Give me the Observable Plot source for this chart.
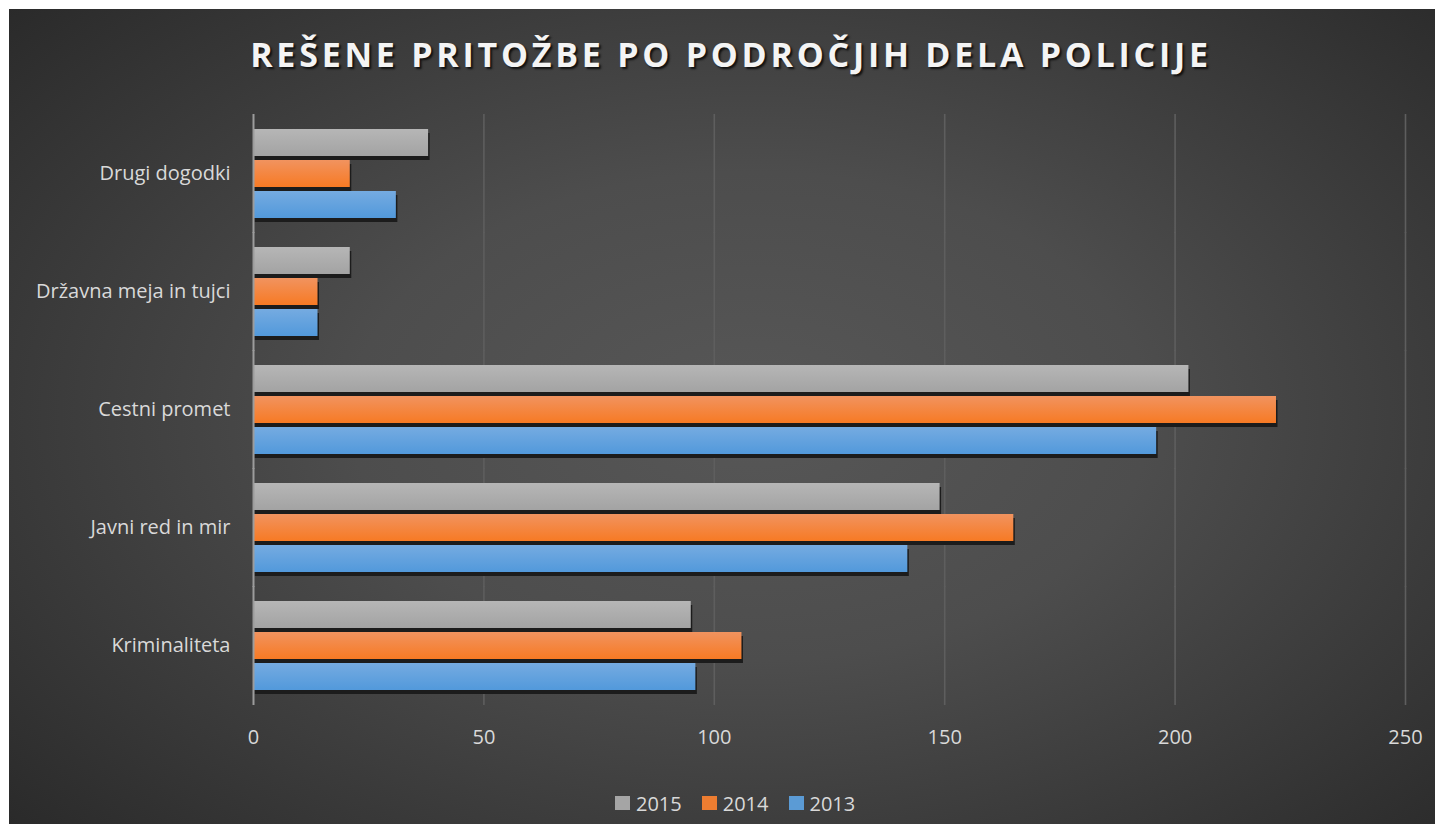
<!DOCTYPE html>
<html><head><meta charset="utf-8">
<script src="https://cdn.jsdelivr.net/npm/d3@7"></script>
<script src="https://cdn.jsdelivr.net/npm/@observablehq/plot@0.6"></script>
<style>
html,body{margin:0;padding:0;background:#fff;}
#chart{position:absolute;left:9px;top:9px;width:1426px;height:815px;overflow:hidden;
 background: radial-gradient(ellipse 70% 75% at 52% 50%, #575757 0%, #4d4d4d 40%, #2a2a2a 100%);
 font-family:"Open Sans",sans-serif;}
#title{position:absolute;left:0;top:22px;width:1426px;text-align:center;padding-left:18px;box-sizing:border-box;
 font-weight:700;font-size:34px;letter-spacing:3.75px;color:#f4f4f4;text-shadow:2px 2px 2px #111;line-height:normal;white-space:nowrap;}
#plot{position:absolute;left:0;top:96px;}
#legend{position:absolute;left:606px;top:782px;height:24px;display:flex;align-items:center;font-size:20px;color:#d9d9d9;}
#legend .item{display:flex;align-items:center;margin-right:20px;}
#legend .sw{width:15px;height:14px;margin-right:6px;}
</style></head>
<body>
<div id="chart">
  <div id="title">REŠENE PRITOŽBE PO PODROČJIH DELA POLICIJE</div>
  <div id="plot"></div>
  <div id="legend"></div>
</div>
<script>
const categories = ["Drugi dogodki", "Državna meja in tujci", "Cestni promet", "Javni red in mir", "Kriminaliteta"];
const years = ["2015", "2014", "2013"];
const values2015 = [38, 21, 203, 149, 95];
const values2014 = [21, 14, 222, 165, 106];
const values2013 = [31, 14, 196, 142, 96];
const xTicks = [0, 50, 100, 150, 200, 250];

const seriesValues = {"2015": values2015, "2014": values2014, "2013": values2013};
const legendColors = {"2015": "#a5a5a5", "2014": "#ed7d31", "2013": "#5b9bd5"};
const gradStops = {"2015": ["#b6b6b6", "#a3a3a3"], "2014": ["#f1935f", "#f77a24"], "2013": ["#75abe1", "#5299db"]};

const data = categories.flatMap((c, i) => years.map(y => ({category: c, year: y, value: seriesValues[y][i]})));

const defs = () => {
  const d = d3.create("svg:defs");
  for (const y of years) {
    const g = d.append("linearGradient").attr("id", "grad" + y).attr("x1", 0).attr("y1", 0).attr("x2", 0).attr("y2", 1);
    g.append("stop").attr("offset", "0%").attr("stop-color", gradStops[y][0]);
    g.append("stop").attr("offset", "100%").attr("stop-color", gradStops[y][1]);
  }
  return d.node();
};

const chart = Plot.plot({
  width: 1426, height: 660,
  marginLeft: 244, marginRight: 30, marginTop: 21, marginBottom: 72,
  style: {background: "transparent", color: "#d9d9d9", fontFamily: "'Open Sans', sans-serif", fontSize: "20px"},
  x: {domain: [0, 250], axis: null},
  y: {domain: years, axis: null, paddingInner: 0.14, paddingOuter: 0.07},
  fy: {domain: categories, paddingInner: 0.2, paddingOuter: 0, axis: null},
  marks: [
    defs,
    Plot.ruleX(xTicks.filter(d => d > 0), {stroke: "#5e5e5e", strokeWidth: 1.6, insetTop: -12, insetBottom: -13}),
    Plot.barX(data, {x: "value", y: "year", fy: "category", fill: "#1c1c1c", dx: 1.5, dy: 4}),
    ...years.map(y => Plot.barX(data.filter(d => d.year === y), {x: "value", y: "year", fy: "category", fill: `url(#grad${y})`})),
    Plot.ruleX([0], {stroke: "#9c9c9c", strokeWidth: 2, insetTop: -12, insetBottom: -13}),
    Plot.axisFy({anchor: "left", tickSize: 0, tickPadding: 23, label: null, fontSize: 20, fill: "#d9d9d9"}),
    Plot.axisX({ticks: xTicks, tickSize: 0, tickPadding: 37, label: null, fontSize: 20, fill: "#d9d9d9"})
  ]
});
document.getElementById("plot").appendChild(chart);

const legend = document.getElementById("legend");
for (const y of years) {
  const item = document.createElement("div");
  item.className = "item";
  const sw = document.createElement("div");
  sw.className = "sw";
  sw.style.background = legendColors[y];
  const t = document.createElement("span");
  t.textContent = y;
  item.appendChild(sw); item.appendChild(t);
  legend.appendChild(item);
}
</script>
</body></html>
